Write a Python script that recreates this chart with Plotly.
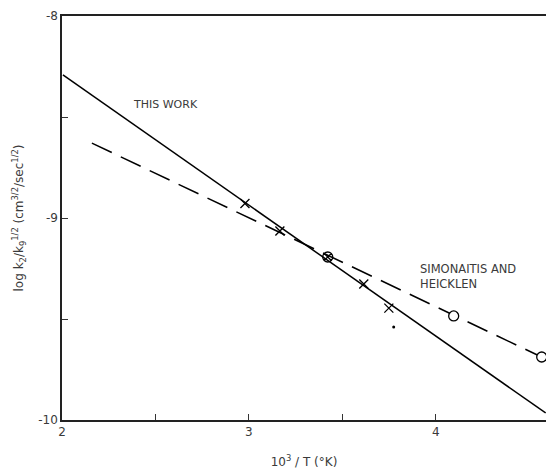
import plotly.graph_objects as go

# Data
this_work_x = [2.005, 4.588]
this_work_y = [-8.292, -9.965]

simon_x = [2.160, 4.600]
simon_y = [-8.629, -9.703]

cross_x = [2.979, 3.166, 3.615, 3.749]
cross_y = [-8.928, -9.064, -9.327, -9.446]

circx_x = [3.422]
circx_y = [-9.193]

circle_x = [4.096, 4.567]
circle_y = [-9.485, -9.688]

dot_x = [3.775]
dot_y = [-9.540]

x_ticks = [2, 2.5, 3, 3.5, 4]
x_labels = ["2", "", "3", "", "4"]
y_ticks = [-10, -9.5, -9, -8.5, -8]
y_labels = ["-10", "", "-9", "", "-8"]

FONT = "DejaVu Sans"
TXT = "#3a3a3a"

fig = go.Figure()
fig.add_trace(go.Scatter(x=this_work_x, y=this_work_y, mode="lines",
                         line=dict(color="black", width=1.5), showlegend=False))
fig.add_trace(go.Scatter(x=simon_x, y=simon_y, mode="lines",
                         line=dict(color="black", width=1.5, dash="22px,10px"), showlegend=False))
fig.add_trace(go.Scatter(x=cross_x, y=cross_y, mode="markers",
                         marker=dict(symbol="x-thin-open", size=9, color="black",
                                     line=dict(color="black", width=1.3)),
                         showlegend=False))
fig.add_trace(go.Scatter(x=circx_x, y=circx_y, mode="markers",
                         marker=dict(symbol="circle-x-open", size=10, color="black",
                                     line=dict(color="black", width=1.3)),
                         showlegend=False))
fig.add_trace(go.Scatter(x=circle_x, y=circle_y, mode="markers",
                         marker=dict(symbol="circle", size=10, color="white",
                                     line=dict(color="black", width=1.3)),
                         showlegend=False))
fig.add_trace(go.Scatter(x=dot_x, y=dot_y, mode="markers",
                         marker=dict(symbol="circle", size=3, color="black"), showlegend=False))

fig.add_annotation(x=2.555, y=-8.436, text="THIS WORK", showarrow=False,
                   font=dict(family=FONT, size=11, color=TXT), xanchor="center", yanchor="middle")
fig.add_annotation(x=3.905, y=-9.29, text="SIMONAITIS AND<br>HEICKLEN", showarrow=False, align="left",
                   font=dict(family=FONT, size=11.5, color=TXT), xanchor="left", yanchor="middle")

fig.update_layout(
    width=546, height=469,
    margin=dict(l=62, r=0, t=16, b=49),
    plot_bgcolor="white", paper_bgcolor="white",
    font=dict(family=FONT, size=12, color=TXT),
    xaxis=dict(range=[2, 4.59], tickvals=x_ticks, ticktext=x_labels, ticks="inside", ticklen=6,
               tickcolor="#333", showline=True, linecolor="#222", linewidth=1.5, mirror=True,
               showgrid=False, zeroline=False,
               title=dict(text="10<sup>3</sup> / T (°K)", font=dict(family=FONT, size=12, color=TXT), standoff=20)),
    yaxis=dict(range=[-10, -8], tickvals=y_ticks, ticktext=y_labels, ticks="inside", ticklen=6,
               tickcolor="#333", showline=True, linecolor="#222", linewidth=1.5, mirror=False,
               showgrid=False, zeroline=False,
               title=dict(text="log k<sub>2</sub>/k<sub>9</sub><sup>1/2</sup> (cm<sup>3/2</sup>/sec<sup>1/2</sup>)",
                          font=dict(family=FONT, size=12, color=TXT), standoff=12)),
)

fig.write_html("out.html")
